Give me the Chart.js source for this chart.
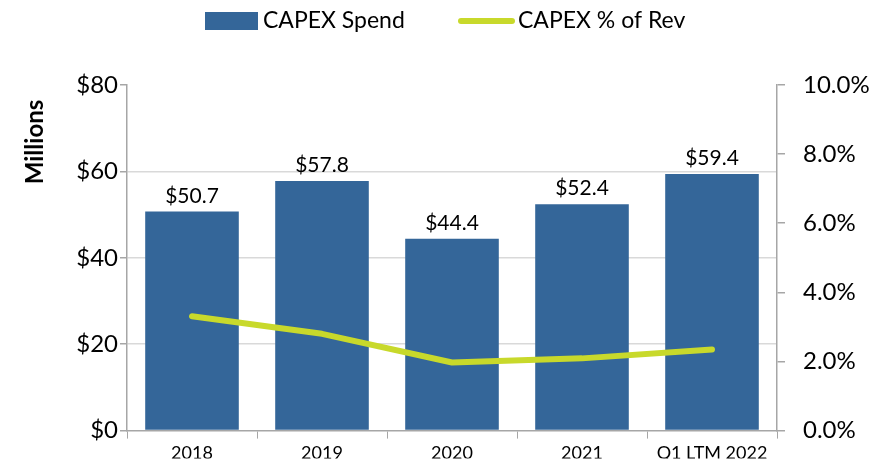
<!DOCTYPE html>
<html>
<head>
<meta charset="utf-8">
<script src="https://cdn.jsdelivr.net/npm/chart.js@4/dist/chart.umd.min.js"></script>
<style>
  html, body { margin: 0; padding: 0; background: #fff; overflow: hidden; }
  canvas { display: block; }
</style>
</head>
<body>
<canvas id="chart" width="879" height="463"></canvas>
<script>
// Chart data
const categories = ['2018', '2019', '2020', '2021', 'Q1 LTM 2022'];
const capexSpend = [50.7, 57.8, 44.4, 52.4, 59.4];
const capexPctRev = [3.31, 2.80, 1.97, 2.09, 2.35];
const leftTicks = [0, 20, 40, 60, 80];
const rightTicks = [0, 2, 4, 6, 8, 10];

const FONT = 'Lato, "Open Sans", sans-serif';
const BAR_COLOR = '#346699';
const LINE_COLOR = '#C8D92B';
const AXIS_COLOR = '#A6A6A6';

// draws "$xx.x" above each bar
const barLabels = {
  id: 'barLabels',
  afterDatasetsDraw(chart) {
    const ctx = chart.ctx;
    const meta = chart.getDatasetMeta(1);
    ctx.save();
    ctx.font = '21px ' + FONT;
    ctx.fillStyle = '#000';
    ctx.textAlign = 'center';
    ctx.textBaseline = 'bottom';
    meta.data.forEach((bar, i) => {
      ctx.fillText('$' + capexSpend[i].toFixed(1), bar.x, bar.y - 5);
    });
    ctx.restore();
  }
};

// legend at the top (blue box + green line) and the "Millions" axis title
const topLegend = {
  id: 'topLegend',
  afterDraw(chart) {
    const ctx = chart.ctx;
    const y = 21;
    ctx.save();
    ctx.font = '23px ' + FONT;
    ctx.textBaseline = 'middle';
    ctx.textAlign = 'left';

    ctx.fillStyle = BAR_COLOR;
    ctx.fillRect(205, 12, 53, 18);
    ctx.fillStyle = '#000';
    ctx.fillText('CAPEX Spend', 263, y);

    ctx.strokeStyle = LINE_COLOR;
    ctx.lineWidth = 6;
    ctx.lineCap = 'round';
    ctx.beginPath();
    ctx.moveTo(461, y);
    ctx.lineTo(512, y);
    ctx.stroke();
    ctx.fillText('CAPEX % of Rev', 518, y);

    // y axis title
    ctx.translate(35, 142);
    ctx.rotate(-Math.PI / 2);
    ctx.font = 'bold 24px ' + FONT;
    ctx.textAlign = 'center';
    ctx.fillText('Millions', 0, 0);
    ctx.restore();
  }
};

new Chart(document.getElementById('chart'), {
  type: 'bar',
  data: {
    labels: categories,
    datasets: [
      {
        type: 'line',
        label: 'CAPEX % of Rev',
        data: capexPctRev,
        yAxisID: 'y1',
        borderColor: LINE_COLOR,
        backgroundColor: LINE_COLOR,
        borderWidth: 6,
        borderCapStyle: 'round',
        borderJoinStyle: 'round',
        pointRadius: 0,
        tension: 0,
        order: 0
      },
      {
        label: 'CAPEX Spend',
        data: capexSpend,
        yAxisID: 'y',
        backgroundColor: BAR_COLOR,
        categoryPercentage: 0.72,
        barPercentage: 1,
        order: 1
      }
    ]
  },
  options: {
    responsive: false,
    animation: false,
    layout: { padding: { top: 85 } },
    plugins: {
      legend: { display: false },
      tooltip: { enabled: false }
    },
    scales: {
      x: {
        offset: true,
        grid: {
          offset: true,
          drawOnChartArea: false,
          drawTicks: true,
          tickLength: 8,
          color: AXIS_COLOR
        },
        border: { color: AXIS_COLOR, width: 1.5 },
        ticks: { font: { family: FONT, size: 18 }, color: '#000', padding: 4, maxRotation: 0 },
        afterFit(scale) { scale.height = 28; }
      },
      y: {
        position: 'left',
        min: 0,
        max: 80,
        afterBuildTicks(scale) { scale.ticks = leftTicks.map(v => ({ value: v })); },
        grid: {
          color: ctx => (ctx.tick && (ctx.tick.value === 0 || ctx.tick.value === 80)) ? 'rgba(0,0,0,0)' : '#D9D9D9',
          tickColor: AXIS_COLOR,
          lineWidth: 1.5,
          tickLength: 7
        },
        border: { color: AXIS_COLOR, width: 1.5 },
        ticks: {
          font: { family: FONT, size: 24 },
          color: '#000',
          padding: 2,
          callback: v => '$' + v
        },
        afterFit(scale) { scale.width = 127; }
      },
      y1: {
        position: 'right',
        min: 0,
        max: 10,
        afterBuildTicks(scale) { scale.ticks = rightTicks.map(v => ({ value: v })); },
        grid: {
          drawOnChartArea: false,
          color: AXIS_COLOR,
          lineWidth: 1.5,
          tickLength: 8
        },
        border: { color: AXIS_COLOR, width: 1.5 },
        ticks: {
          font: { family: FONT, size: 24 },
          color: '#000',
          padding: 18,
          callback: v => v.toFixed(1) + '%'
        },
        afterFit(scale) { scale.width = 102; }
      }
    }
  },
  plugins: [barLabels, topLegend]
});
</script>
</body>
</html>
